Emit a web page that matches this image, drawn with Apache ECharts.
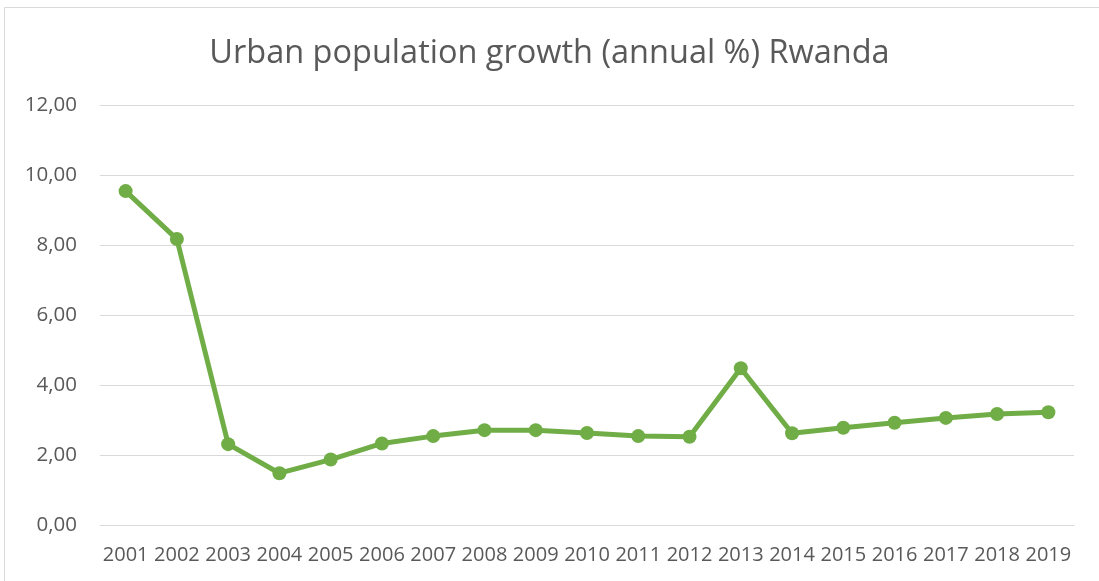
<!DOCTYPE html>
<html>
<head>
<meta charset="utf-8">
<script src="https://cdn.jsdelivr.net/npm/echarts@6/dist/echarts.min.js"></script>
<style>
  html, body { margin: 0; padding: 0; background: #fff; }
  #main { width: 1099px; height: 581px; }
</style>
</head>
<body>
<div id="main"></div>
<script>
// data
var years = ['2001','2002','2003','2004','2005','2006','2007','2008','2009','2010',
             '2011','2012','2013','2014','2015','2016','2017','2018','2019'];
var growth = [9.54, 8.17, 2.31, 1.48, 1.87, 2.33, 2.54, 2.71, 2.71, 2.63,
              2.54, 2.52, 4.48, 2.62, 2.78, 2.92, 3.06, 3.17, 3.22];
var yTicks = [0, 2, 4, 6, 8, 10, 12];

var chart = echarts.init(document.getElementById('main'));
var option = {
  backgroundColor: '#fff',
  animation: false,
  title: {
    text: 'Urban population growth (annual %) Rwanda',
    left: 'center',
    top: 32,
    textStyle: {
      fontFamily: 'Open Sans',
      fontWeight: 'normal',
      fontSize: 32.5,
      color: '#595959'
    }
  },
  graphic: [{
    type: 'rect',
    shape: { x: 4.5, y: 7.5, width: 1110, height: 600 },
    style: { fill: 'none', stroke: '#d9d9d9', lineWidth: 1 },
    silent: true
  }],
  grid: { left: 100, right: 25, top: 105, bottom: 56 },
  xAxis: {
    type: 'category',
    data: years,
    boundaryGap: true,
    axisLine: { lineStyle: { color: '#d9d9d9' } },
    axisTick: { show: false },
    axisLabel: {
      color: '#595959',
      fontFamily: 'Open Sans',
      fontSize: 20,
      margin: 20,
      interval: 0
    }
  },
  yAxis: {
    type: 'value',
    min: yTicks[0],
    max: yTicks[yTicks.length - 1],
    interval: 2,
    axisLine: { show: false },
    axisTick: { show: false },
    splitLine: { lineStyle: { color: '#d9d9d9', width: 1 } },
    axisLabel: {
      color: '#595959',
      fontFamily: 'Open Sans',
      fontSize: 20.5,
      margin: 23,
      formatter: function (v) { return v.toFixed(2).replace('.', ','); }
    }
  },
  series: [{
    type: 'line',
    data: growth,
    symbol: 'circle',
    symbolSize: 14,
    lineStyle: { color: '#70ad47', width: 5 },
    itemStyle: { color: '#70ad47' }
  }]
};
chart.setOption(option);
</script>
</body>
</html>
